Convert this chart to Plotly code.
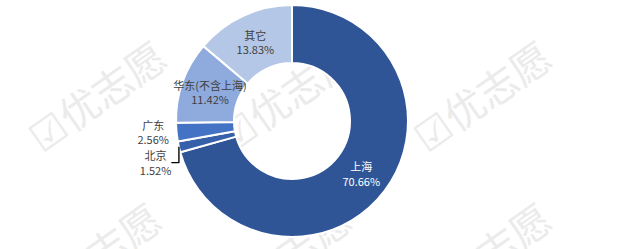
import plotly.graph_objects as go

regions = ["上海", "北京", "广东", "华东(不含上海)", "其它"]
shares = [70.66, 1.52, 2.56, 11.42, 13.83]
colors = ["#2F5597", "#3660AA", "#4472C4", "#8FAADC", "#B4C7E7"]
positions = ["inside", "outside", "outside", "inside", "inside"]
text_colors = ["#FFFFFF", "#404040", "#404040", "#404040", "#404040"]

fig = go.Figure(go.Pie(
    labels=regions,
    values=shares,
    sort=False,
    direction="clockwise",
    rotation=0,
    hole=0.5,
    marker=dict(colors=colors, line=dict(color="#FFFFFF", width=2)),
    texttemplate="%{label}<br>%{value:.2f}%",
    textposition=positions,
    insidetextorientation="horizontal",
    textfont=dict(family="Noto Sans CJK SC", size=11, color=text_colors),
    showlegend=False,
    domain=dict(x=[176/619, 408/619], y=[1-237/249, 1-5/249]),
))

# watermarks (behind the chart)
wm = [(100, 100), (290, 100), (485, 100), (95, 262), (285, 262), (485, 262)]
for px, py in wm:
    fig.add_shape(type="rect", xref="paper", yref="paper",
                  x0=(px-5)/619, x1=(px+5)/619, y0=1-(py+5)/249, y1=1-(py-5)/249,
                  line=dict(width=0), fillcolor="rgba(0,0,0,0)", layer="below",
                  label=dict(text="☑优志愿", textangle=-35, textposition="middle center",
                             font=dict(family="Noto Sans CJK SC", size=40, color="#EBEBEB")))

fig.update_layout(width=619, height=249, margin=dict(l=0, r=0, t=0, b=0),
                  paper_bgcolor="white", plot_bgcolor="white",
                  uniformtext=dict(minsize=11, mode="show"))
fig.write_html("out.html")
